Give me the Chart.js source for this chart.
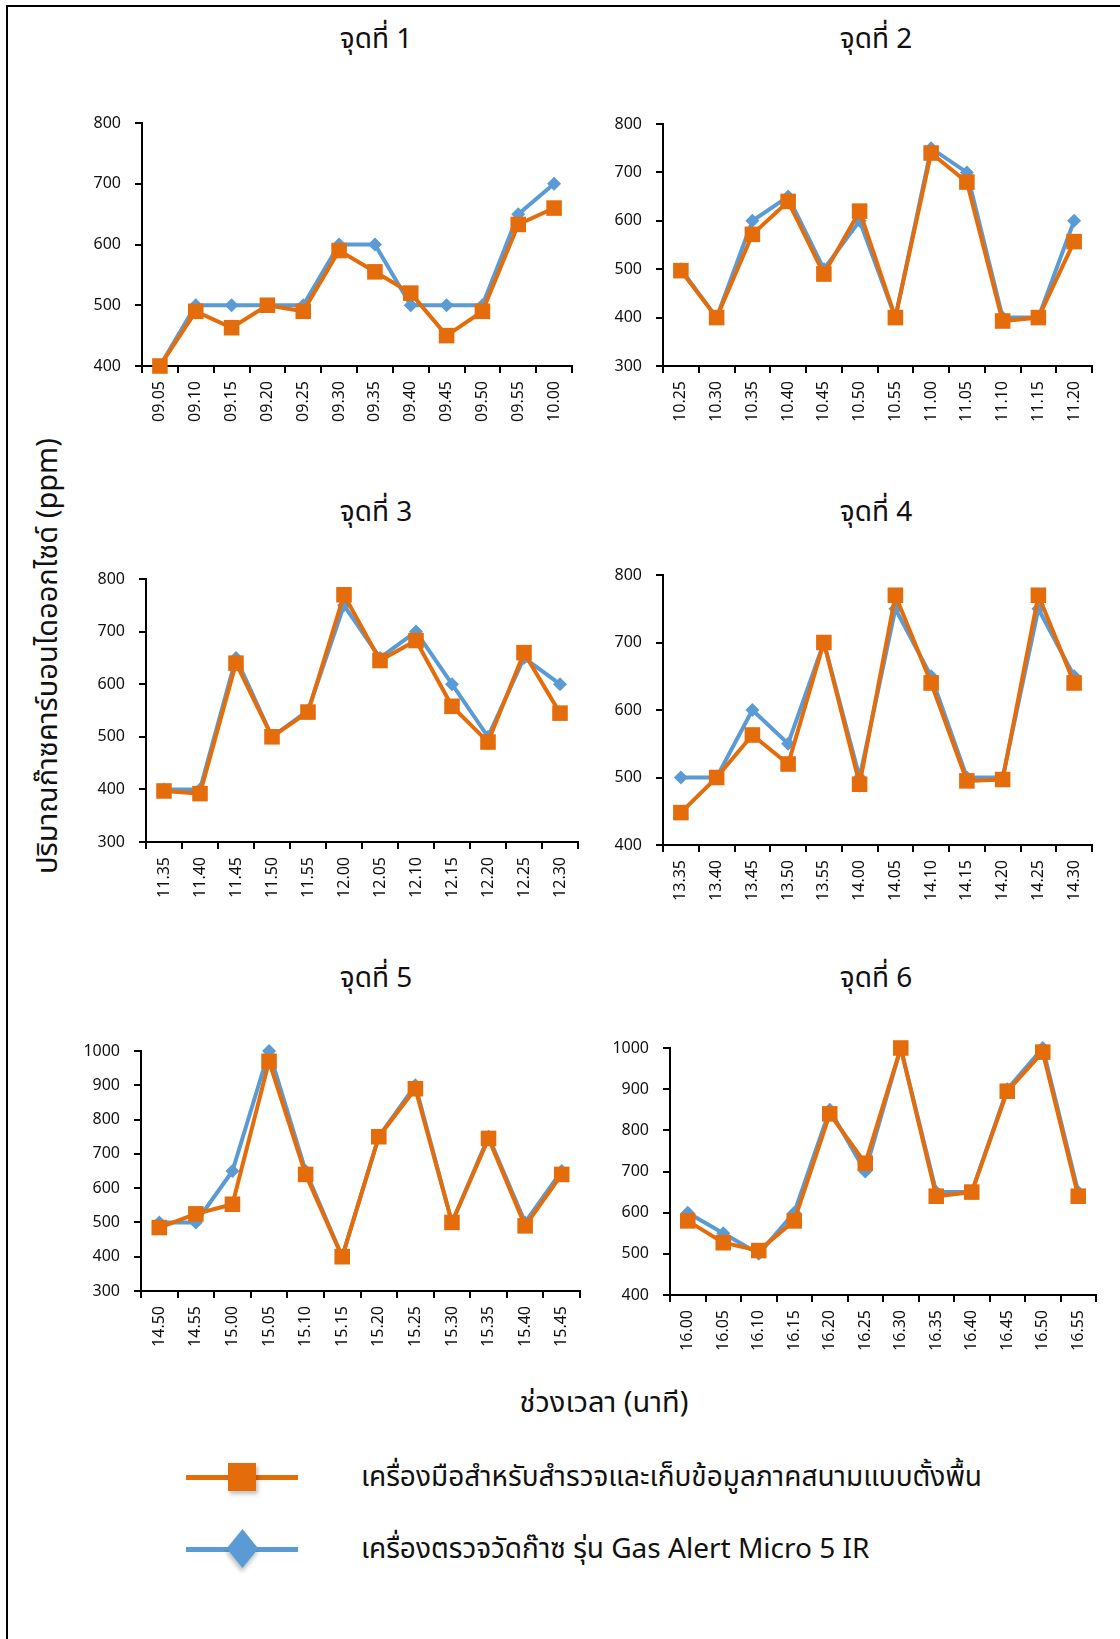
<!DOCTYPE html>
<html>
<head>
<meta charset="utf-8">
<script src="https://cdn.jsdelivr.net/npm/chart.js@4.4.0/dist/chart.umd.min.js"></script>
<style>
    body { margin: 0; width: 1120px; height: 1639px; position: relative; background: #fff; overflow: hidden;
           font-family: "Noto Sans Thai", "Noto Sans", sans-serif; color: #111; }
    .frame { position: absolute; left: 6px; top: 5px; width: 1200px; height: 1700px;
             border-left: 2px solid #000; border-top: 2px solid #000; }
    .title { position: absolute; font-size: 28px; transform: translate(-50%, -50%); white-space: nowrap; }
    .ytitle { position: absolute; left: 48px; top: 656px; font-size: 29px; white-space: nowrap;
              transform: translate(-50%, -50%) rotate(-90deg); }
    .xtitle { position: absolute; left: 604px; top: 1403px; font-size: 29px; white-space: nowrap;
              transform: translate(-50%, -50%); }
    canvas { position: absolute; }
    .leg { position: absolute; left: 186px; width: 112px; height: 5px; }
    .leg .mk { position: absolute; left: 42px; top: -12px; width: 28px; height: 28px; box-shadow: 2px 3px 4px rgba(0,0,0,0.25); }
    .legtext { position: absolute; left: 361px; font-size: 28px; white-space: nowrap; transform: translateY(-50%); }
</style>
</head>
<body>
<div class="frame"></div>

<div class="title" style="left:376px;top:39px">จุดที่ 1</div>
<div class="title" style="left:876px;top:39px">จุดที่ 2</div>
<div class="title" style="left:376px;top:512px">จุดที่ 3</div>
<div class="title" style="left:876px;top:512px">จุดที่ 4</div>
<div class="title" style="left:376px;top:978px">จุดที่ 5</div>
<div class="title" style="left:876px;top:978px">จุดที่ 6</div>

<div class="ytitle">ปริมาณก๊าซคาร์บอนไดออกไซด์ (ppm)</div>
<div class="xtitle">ช่วงเวลา (นาที)</div>

<div class="leg" style="top:1475px;background:#E46C0A">
    <div class="mk" style="background:#E46C0A"></div>
</div>
<div class="legtext" style="top:1477px">เครื่องมือสำหรับสำรวจและเก็บข้อมูลภาคสนามแบบตั้งพื้น</div>
<div class="leg" style="top:1547px;background:#5B9BD5">
    <div class="mk" style="background:#5B9BD5;transform:rotate(45deg) skew(6deg,6deg);left:44px;top:-11px;width:25px;height:25px"></div>
</div>
<div class="legtext" style="top:1549px">เครื่องตรวจวัดก๊าซ รุ่น Gas Alert Micro 5 IR</div>

<script>
// time labels for each measuring point
const times1 = ['09.05','09.10','09.15','09.20','09.25','09.30','09.35','09.40','09.45','09.50','09.55','10.00'];
const times2 = ['10.25','10.30','10.35','10.40','10.45','10.50','10.55','11.00','11.05','11.10','11.15','11.20'];
const times3 = ['11.35','11.40','11.45','11.50','11.55','12.00','12.05','12.10','12.15','12.20','12.25','12.30'];
const times4 = ['13.35','13.40','13.45','13.50','13.55','14.00','14.05','14.10','14.15','14.20','14.25','14.30'];
const times5 = ['14.50','14.55','15.00','15.05','15.10','15.15','15.20','15.25','15.30','15.35','15.40','15.45'];
const times6 = ['16.00','16.05','16.10','16.15','16.20','16.25','16.30','16.35','16.40','16.45','16.50','16.55'];

// field survey instrument (orange)
const field1 = [400, 490, 463, 500, 490, 590, 555, 520, 450, 490, 633, 660];
const field2 = [497, 400, 572, 640, 490, 620, 400, 740, 680, 393, 400, 557];
const field3 = [397, 392, 640, 500, 547, 770, 645, 683, 558, 490, 660, 545];
const field4 = [448, 500, 563, 520, 700, 490, 770, 640, 495, 497, 770, 640];
const field5 = [485, 525, 553, 970, 640, 400, 750, 890, 500, 745, 490, 640];
const field6 = [580, 527, 508, 580, 840, 720, 1000, 640, 650, 895, 990, 640];

// Gas Alert Micro 5 IR (blue)
const gas1 = [400, 500, 500, 500, 500, 600, 600, 500, 500, 500, 650, 700];
const gas2 = [500, 400, 600, 650, 500, 600, 400, 750, 700, 400, 400, 600];
const gas3 = [400, 400, 650, 500, 550, 750, 650, 700, 600, 500, 650, 600];
const gas4 = [500, 500, 600, 550, 700, 500, 750, 650, 500, 500, 750, 650];
const gas5 = [500, 500, 650, 1000, 650, 400, 750, 900, 500, 750, 500, 650];
const gas6 = [600, 550, 500, 600, 850, 700, 1000, 650, 650, 900, 1000, 650];

// y axis ranges
const yMins = [400, 300, 300, 400, 300, 400];
const yMaxs = [800, 800, 800, 800, 1000, 1000];

const ORANGE = '#E46C0A';
const BLUE = '#5B9BD5';
const YW = 70, XH = 70, PT = 14, PR = 12;

// plot area of each panel: left, top, right, bottom
const panels = [
    { rect: [142, 123, 572, 366], labels: times1, field: field1, gas: gas1 },
    { rect: [663, 124, 1092, 366], labels: times2, field: field2, gas: gas2 },
    { rect: [146, 579, 578, 842], labels: times3, field: field3, gas: gas3 },
    { rect: [663, 575, 1092, 845], labels: times4, field: field4, gas: gas4 },
    { rect: [141, 1051, 580, 1291], labels: times5, field: field5, gas: gas5 },
    { rect: [670, 1048, 1096, 1295], labels: times6, field: field6, gas: gas6 }
];

const tickFont = { family: '"Noto Sans", sans-serif', size: 16 };

panels.forEach((p, i) => {
    const [l, t, r, b] = p.rect;
    const canvas = document.createElement('canvas');
    const w = r - l + YW + PR;
    const h = b - t + PT + XH;
    canvas.width = w;
    canvas.height = h;
    canvas.style.left = (l - YW) + 'px';
    canvas.style.top = (t - PT) + 'px';
    canvas.style.width = w + 'px';
    canvas.style.height = h + 'px';
    document.body.appendChild(canvas);

    new Chart(canvas, {
        type: 'line',
        data: {
            labels: p.labels,
            datasets: [
                {
                    label: 'เครื่องมือสำหรับสำรวจและเก็บข้อมูลภาคสนามแบบตั้งพื้น',
                    data: p.field,
                    borderColor: ORANGE,
                    backgroundColor: ORANGE,
                    borderWidth: 4,
                    pointStyle: 'rect',
                    pointRadius: 11,
                    pointBorderWidth: 0,
                    tension: 0,
                    clip: false
                },
                {
                    label: 'เครื่องตรวจวัดก๊าซ รุ่น Gas Alert Micro 5 IR',
                    data: p.gas,
                    borderColor: BLUE,
                    backgroundColor: BLUE,
                    borderWidth: 4,
                    pointStyle: 'rectRot',
                    pointRadius: 7,
                    pointBorderWidth: 0,
                    tension: 0,
                    clip: false
                }
            ]
        },
        options: {
            responsive: false,
            animation: false,
            devicePixelRatio: 1,
            layout: { padding: { top: PT, right: PR, left: 0, bottom: 0 } },
            plugins: { legend: { display: false }, tooltip: { enabled: false } },
            scales: {
                x: {
                    offset: true,
                    grid: { offset: true, drawOnChartArea: false, drawTicks: true, tickLength: 7, color: '#000', lineWidth: 2 },
                    border: { display: true, color: '#000', width: 2 },
                    ticks: { color: '#111', font: tickFont, minRotation: 90, maxRotation: 90, autoSkip: false, padding: 8 },
                    afterFit: s => { s.height = XH; s.paddingLeft = 0; s.paddingRight = 0; }
                },
                y: {
                    min: yMins[i],
                    max: yMaxs[i],
                    grid: { drawOnChartArea: false, drawTicks: true, tickLength: 7, color: '#000', lineWidth: 2 },
                    border: { display: true, color: '#000', width: 2 },
                    ticks: { color: '#111', font: tickFont, stepSize: 100, padding: 14, callback: v => String(v) },
                    afterFit: s => { s.width = YW; s.paddingTop = 0; s.paddingBottom = 0; }
                }
            }
        }
    });
});
</script>
</body>
</html>
